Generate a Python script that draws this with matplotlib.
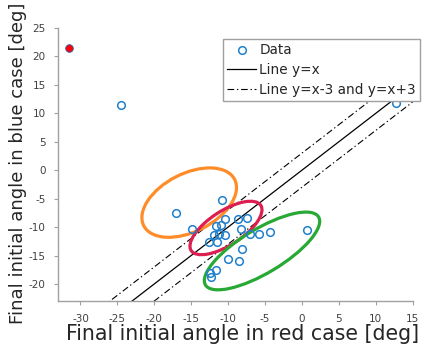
import numpy as np
import matplotlib
matplotlib.use('Agg')
import matplotlib.pyplot as plt
from matplotlib.patches import Ellipse
from matplotlib import transforms

plt.rcParams['font.family'] = 'DejaVu Sans'
plt.rcParams['axes.unicode_minus'] = False

# final initial angles [deg]
red_case = [-24.5, 12.7, -17.1, -14.9, -10.8, -11.7, -10.9, -10.45, -8.6, -7.5,
            -8.25, -12.55, -11.9, -11.2, -10.4, -11.45, -7.1, -5.8, -4.3, 0.7,
            -8.1, -10.0, -8.55, -11.7, -12.4, -12.3]
blue_case = [11.4, 11.9, -7.6, -10.35, -5.3, -9.8, -9.6, -8.6, -8.6, -8.4,
             -10.3, -12.6, -11.4, -11.3, -11.4, -12.6, -11.2, -11.2, -10.9, -10.5,
             -13.8, -15.6, -16.05, -17.5, -18.1, -18.7]
outlier_red = [-31.6]
outlier_blue = [21.4]

line_x = np.array([-33.0, 15.0])
band = 3.0

# groups: centre (data), half axes (px), tilt (deg on screen), colour
groups_cx = [-15.27, -10.29, -5.41]
groups_cy = [-5.70, -10.16, -14.2]
groups_a = [51, 41.5, 66]
groups_b = [29, 17, 22]
groups_ang = [27, 33, 31]
groups_col = ['#FF8C28', '#DC1E50', '#28A834']

fig = plt.figure(figsize=(4.28, 3.5), dpi=100)
ax = fig.add_axes([58.3/428, 1-301/350, (412.7-58.3)/428, (301-28)/350])

blue = '#2080CC'
ax.plot(red_case, blue_case, 'o', mfc='none', mec=blue, ms=5.5, mew=1.1, label='Data', zorder=4)
ax.plot(outlier_red, outlier_blue, 'o', mfc='red', mec='#3060b0', ms=5.5, mew=0.6, zorder=4)
ax.plot(line_x, line_x, '-', color='k', lw=0.9, label='Line y=x')
ax.plot(line_x, line_x - band, color='k', lw=0.8, ls=(0, (6, 2.5, 1.2, 2.5)),
        label='Line y=x-3 and y=x+3')
ax.plot(line_x, line_x + band, color='k', lw=0.8, ls=(0, (6, 2.5, 1.2, 2.5)))

for cx, cy, a, b, ang, col in zip(groups_cx, groups_cy, groups_a, groups_b, groups_ang, groups_col):
    tr = fig.dpi_scale_trans + transforms.ScaledTranslation(cx, cy, ax.transData)
    ax.add_patch(Ellipse((0, 0), 2*a/100, 2*b/100, angle=ang, fill=False,
                         ec=col, lw=2.3, transform=tr, zorder=3))

ax.set_xlim(-33, 15)
ax.set_ylim(-23, 25)
ax.set_xticks(np.arange(-30, 16, 5))
ax.set_yticks(np.arange(-20, 26, 5))
for s in ['top', 'right']:
    ax.spines[s].set_visible(False)
for s in ['left', 'bottom']:
    ax.spines[s].set_color('#a0a0a0')
    ax.spines[s].set_linewidth(1.0)
ax.tick_params(direction='out', length=3, width=0.8, color='#a0a0a0',
               labelsize=7.5, labelcolor='#404040', pad=6)

ax.set_xlabel('Final initial angle in red case [deg]', fontsize=14.8, color='#262626')
ax.set_ylabel('Final initial angle in blue case [deg]', fontsize=13, color='#262626')
ax.xaxis.set_label_coords(0.519, -0.084)
ax.yaxis.set_label_coords(-0.087, 0.505)

leg = ax.legend(loc='upper left', bbox_to_anchor=(223.3/428, 1-39.3/350),
                bbox_transform=fig.transFigure, fontsize=9.8, frameon=True,
                fancybox=False, framealpha=1, borderpad=0.3, labelspacing=0.42,
                handlelength=2.1, handletextpad=0.25, borderaxespad=0)
leg.get_frame().set_edgecolor('#a0a0a0')
leg.get_frame().set_linewidth(1.0)
for t in leg.get_texts():
    t.set_color('#262626')

fig.savefig('out.png', dpi=100)
